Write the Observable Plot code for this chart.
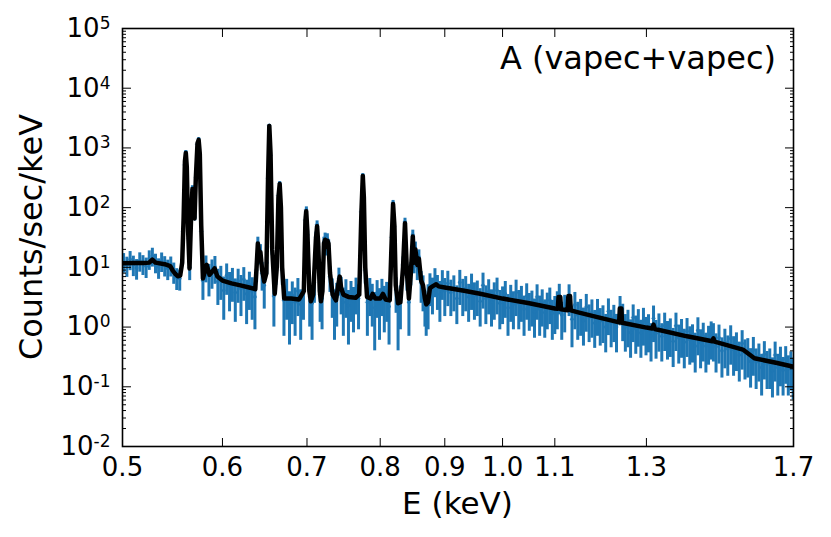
<!DOCTYPE html>
<html><head><meta charset="utf-8">
<script src="https://cdn.jsdelivr.net/npm/d3@7"></script>
<script src="https://cdn.jsdelivr.net/npm/@observablehq/plot@0.6"></script>
<style>body{margin:0;background:#fff}#chart{width:831px;height:537px}</style>
</head><body><div id="chart"></div>
<script>
// ---- model (black line) ----
const modelE = [0.500,0.510,0.520,0.525,0.528,0.531,0.540,0.5455,0.548,0.5505,0.553,0.5555,0.5575,0.5590,0.5603,0.5612,0.5622,0.5636,0.5650,0.5665,0.5680,0.5692,0.5702,0.5715,0.5733,0.5745,0.5757,0.5772,0.5790,0.5810,0.5830,0.5860,0.5890,0.5915,0.5945,0.6000,0.6100,0.6200,0.6300,0.6350,0.6370,0.6385,0.6400,0.6415,0.6430,0.6450,0.6475,0.6500,0.6520,0.6535,0.6550,0.6570,0.6600,0.6625,0.6645,0.6660,0.6675,0.6690,0.6715,0.6800,0.6900,0.6960,0.6980,0.6990,0.7005,0.7030,0.7050,0.7080,0.7115,0.7130,0.7145,0.7165,0.7180,0.7200,0.7220,0.7235,0.7250,0.7265,0.7280,0.7300,0.7335,0.7380,0.7410,0.7430,0.7450,0.7480,0.7550,0.7650,0.7700,0.7730,0.7750,0.7765,0.7785,0.7810,0.7860,0.7890,0.7930,0.8000,0.8040,0.8080,0.8140,0.8170,0.8190,0.8210,0.8230,0.8265,0.8300,0.8340,0.8370,0.8400,0.8430,0.8460,0.8490,0.8510,0.8530,0.8560,0.8585,0.8620,0.8650,0.8680,0.8700,0.8730,0.8760,0.8800,0.8860,0.8900,0.9000,0.9300,0.9600,1.0000,1.0500,1.1000,1.1060,1.1075,1.1110,1.1125,1.1260,1.1275,1.1310,1.1325,1.1500,1.2000,1.2370,1.2385,1.2420,1.2435,1.3000,1.3140,1.3170,1.3200,1.4000,1.4660,1.4690,1.4720,1.5500,1.5830,1.6500,1.7000];
const modelFlux = [11.7,11.8,11.8,12.0,13.5,12.0,11.3,10.5,8.8,7.8,7.1,7.3,12,70,600,824,480,40,9.6,60,205,100,66,300,1200,1365,800,50,6.5,8.5,11,7.5,8.5,9.6,7,6.0,5.4,5.0,4.6,4.4,4.3,10,25,17,18,9,5.8,8,300,2340,800,20,3.6,10,150,248,100,10,3.0,3.0,2.9,4,60,87,40,4,2.7,3.5,30,49,25,4,2.7,4,25,29,22,28,25,8,3.5,2.8,5,7,4.5,3.5,3.2,3.1,3.5,80,339,150,10,3.2,3.0,3.6,3.0,3.0,3.6,2.9,2.8,30,115,50,5,2.5,2.6,10,55,8,3,8,33,12,20,11,14,6,5,3,2.4,2.6,4.5,4.8,5.2,4.8,4.6,4.1,3.62,3.0,2.5,2.05,2.02,3.2,3.2,1.98,1.92,3.3,3.3,1.9,1.75,1.40,1.2,2.05,2.05,1.18,0.98,0.95,1.1,0.93,0.70,0.58,0.65,0.57,0.42,0.30,0.25,0.217];

// ---- data (blue points with error bars) ----
const dataE = [
0.501,0.504,0.507,0.510,0.513,0.516,0.519,0.522,0.525,0.528,0.531,0.534,0.537,0.540,0.543,0.546,0.549,0.552,0.555,
0.5585,0.5600,0.5612,0.5625,0.5640,0.5652,0.5665,0.5680,0.5695,0.5705,0.5718,0.5732,0.5745,0.5760,0.5775,0.5790,
0.5822,0.5854,0.5886,0.5918,0.5950,0.5982,0.6014,0.6046,0.6078,0.6110,0.6142,0.6174,0.6206,0.6238,0.6270,0.6302,0.6334,0.6366,
0.6385,0.6400,0.6415,0.6430,0.6450,0.6475,0.6505,0.6520,0.6535,0.6550,0.6568,0.6590,0.6615,0.6645,0.6660,0.6675,0.6692,0.6712,
0.6745,0.6780,0.6815,0.6850,0.6885,0.6920,0.6955,0.6980,0.6992,0.7008,0.7035,0.7065,0.7095,0.7115,0.7130,0.7148,0.7170,0.7195,0.7220,0.7235,0.7250,0.7265,0.7282,0.7300,0.7330,0.7360,0.7390,0.7420,0.7450,0.7480,0.7515,0.7550,0.7585,0.7620,0.7655,0.7690,
0.7730,0.7750,0.7765,0.7785,0.7815,0.7850,0.7885,0.7920,0.7955,0.7990,0.8025,0.8060,0.8095,0.8130,0.8170,0.8190,0.8210,0.8235,0.8265,0.8300,0.8340,0.8370,0.8400,0.8430,0.8460,0.8490,0.8510,0.8530,0.8560,0.8585,0.8620,0.8650,0.8680,0.8700,0.8730,0.8760,0.8800,0.8840,0.8880,0.8920,0.8960,0.9000,
0.905,0.910,0.915,0.920,0.925,0.930,0.935,0.940,0.945,0.950,0.955,0.960,0.965,0.970,0.975,0.980,0.985,0.990,0.995,1.000,1.005,1.010,1.015,1.020,1.025,1.030,1.035,1.040,1.045,1.050,1.055,1.060,1.065,1.070,1.075,1.080,1.085,1.090,1.095,1.100,1.105,
1.109,1.114,1.120,1.129,1.135,1.141,1.147,1.153,1.159,1.165,1.171,1.177,1.183,1.189,1.195,1.201,1.207,1.213,1.219,1.225,1.231,1.239,1.245,1.251,1.257,1.263,1.269,1.275,1.281,1.287,1.293,1.299,1.305,1.311,1.317,1.323,1.330,1.337,1.344,1.351,1.358,1.365,1.372,1.379,1.386,1.393,1.400,1.407,1.414,1.421,1.428,1.435,1.442,1.449,1.456,1.463,
1.469,1.476,1.484,1.492,1.500,1.508,1.516,1.524,1.532,1.540,1.548,1.556,1.564,1.572,1.580,1.588,1.596,1.604,1.612,1.620,1.628,1.636,1.644,1.652,1.660,1.668,1.676,1.684,1.692,1.699];
const dataFlux = [
12.5,10.8,13.6,11.2,9.8,12.9,11.5,10.4,13.9,15.5,12.2,10.1,12.8,11.0,9.6,10.9,8.5,6.8,6.5,
40,520,860,380,30,10,70,215,90,70,320,1150,1420,700,40,6.0,
10.5,7.2,8.8,10.2,5.8,6.6,4.1,7.4,5.0,6.1,3.8,5.9,4.4,6.3,3.6,5.1,4.0,3.2,
9,26,16,19,8,5.0,12,310,2400,750,22,3.3,9,160,255,95,9,2.8,
3.8,2.2,3.4,2.6,4.0,2.4,3.6,62,92,35,3.2,2.5,5.5,32,52,22,3.5,3.0,26,31,21,30,23,7,3.9,2.4,3.2,6.5,4.2,2.6,3.8,2.3,3.5,2.7,4.1,3.0,
85,350,140,9,2.6,4.0,3.1,2.1,3.7,2.5,3.9,2.8,3.4,2.2,32,120,48,4.2,2.0,2.9,11,58,7.5,2.6,8.5,35,12,21,10,15,5.5,4.5,2.5,1.9,3.0,5.0,4.1,6.3,4.6,3.5,5.8,4.0,
5.4,3.8,4.5,3.0,5.6,3.9,4.4,3.2,4.8,3.4,3.7,2.7,5.0,3.0,3.9,2.6,3.4,4.1,2.5,2.9,3.6,2.1,3.1,2.4,3.8,2.5,3.0,2.0,3.3,2.25,2.5,1.8,3.2,2.0,2.6,1.75,2.3,2.8,1.7,2.0,2.4,
3.4,1.6,2.1,3.3,1.35,2.35,1.6,1.8,1.28,2.17,1.45,1.75,1.17,1.8,1.26,1.4,1.0,1.84,1.18,1.43,1.0,2.15,1.49,1.0,1.18,0.81,1.45,0.94,1.21,0.8,1.27,0.89,0.99,0.7,1.4,0.79,1.02,0.7,1.05,0.76,0.84,0.58,1.05,0.66,0.82,0.56,0.85,0.62,0.67,0.48,0.88,0.55,0.71,0.48,0.63,0.75,
0.7,0.47,0.66,0.4,0.56,0.43,0.64,0.42,0.49,0.34,0.53,0.37,0.39,0.265,0.41,0.26,0.32,0.21,0.35,0.24,0.26,0.185,0.34,0.21,0.28,0.19,0.29,0.2,0.235,0.18];
const dataErr = [
4.5,4.0,4.8,4.2,3.7,4.6,4.2,3.9,5.0,5.4,4.4,3.8,4.6,4.1,3.6,4.0,3.3,2.7,2.5,
8,30,40,25,7,4,10,18,12,10,22,45,50,35,8,3.2,
5,4,4.5,5,3.5,3.8,2.8,4,3.2,3.5,2.6,3.4,2.9,3.6,2.5,3.2,2.7,2.3,
3.5,6,5,5,4,3,4.5,20,60,35,6,2.3,4,15,18,12,4,2.1,
2.5,1.7,2.3,1.9,2.5,1.8,2.3,9,11,7,2.2,1.9,3,7,8,6,2.3,2.1,6,6.5,5.5,6.5,6,3.2,2.5,1.8,2.2,3.2,2.6,1.9,2.4,1.8,2.3,1.9,2.5,2.1,
10,20,13,3.8,1.9,2.5,2.1,1.7,2.3,1.9,2.4,2.0,2.2,1.7,7,12,8,2.5,1.6,2.0,4,8.5,3.5,1.9,3.6,7,4.2,5.5,4,4.6,3,2.7,1.5,1.2,2.1,2.8,2.5,3.2,2.7,2.3,3.0,2.5,
3.2,2.3,2.7,1.9,3.3,2.4,2.6,2.0,2.9,2.1,2.2,1.7,3.0,1.9,2.3,1.6,2.1,2.5,1.6,1.8,2.2,1.4,1.9,1.5,2.3,1.6,1.8,1.3,2.0,1.4,1.5,1.15,1.9,1.3,1.6,1.1,1.4,1.7,1.1,1.25,1.5,
1.8,1.0,1.3,1.8,0.9,1.45,1.0,1.1,0.8,1.35,0.9,1.1,0.73,1.1,0.78,0.87,0.63,1.12,0.73,0.88,0.63,1.1,0.92,0.62,0.73,0.51,0.9,0.59,0.75,0.5,0.79,0.56,0.62,0.44,0.85,0.5,0.64,0.44,0.66,0.48,0.53,0.37,0.66,0.42,0.52,0.36,0.54,0.39,0.42,0.31,0.55,0.35,0.45,0.31,0.4,0.47,
0.44,0.3,0.42,0.26,0.36,0.28,0.41,0.27,0.31,0.22,0.34,0.24,0.25,0.17,0.26,0.17,0.2,0.14,0.22,0.15,0.17,0.12,0.22,0.14,0.18,0.12,0.18,0.13,0.15,0.12];

// ---- axes ----
const xTicks = [0.5,0.6,0.7,0.8,0.9,1.0,1.1,1.3,1.7];
const yMajor = [1e-2,1e-1,1,10,100,1000,10000,100000];
const yDecades = [1e-2,1e-1,1,10,100,1000,10000];
const yMinorMult = [2,3,4,5,6,7,8,9];
const yMinor = yDecades.flatMap(d => yMinorMult.map(m => d * m));
const titleText = "A (vapec+vapec)";
const xLabel = "E (keV)";
const yLabel = "Counts/sec/keV";

const blue = "#1f77b4";
const dIdx = dataE.map((_, i) => i);
const mIdx = modelE.map((_, i) => i);
const lo = i => dataFlux[i] - dataErr[i];
const hi = i => dataFlux[i] + dataErr[i];

const plot = Plot.plot({
  width: 831, height: 537,
  marginLeft: 122, marginRight: 38, marginTop: 28, marginBottom: 91,
  style: {fontFamily: "DejaVu Sans", background: "white", color: "black"},
  x: {type: "log", domain: [0.5, 1.7]},
  y: {type: "log", domain: [0.01, 1e5]},
  marks: [
    Plot.ruleY(dIdx, {x1: i => dataE[i] * 0.9955, x2: i => dataE[i] * 1.0045, y: i => dataFlux[i], stroke: blue, strokeOpacity: 0.18, strokeWidth: 1, clip: true}),
    Plot.ruleX(dIdx, {x: i => dataE[i], y1: lo, y2: hi, stroke: blue, strokeWidth: 3, clip: true}),
    Plot.dot(dIdx, {x: i => dataE[i], y: i => dataFlux[i], r: 1.8, fill: blue, stroke: null, clip: true}),
    Plot.line(mIdx, {x: i => modelE[i], y: i => modelFlux[i], stroke: "black", strokeWidth: 4.5, strokeLinejoin: "round", clip: true}),
    Plot.axisX({anchor: "bottom", ticks: xTicks, tickSize: -8, tickFormat: () => "", label: null}),
    Plot.axisX({anchor: "bottom", ticks: xTicks, tickSize: 0, tickPadding: 11, tickFormat: d3.format(".1f"), fontSize: 26, label: null}),
    Plot.axisX({anchor: "top", ticks: xTicks, tickSize: -8, tickFormat: () => "", label: null}),
    Plot.axisY({anchor: "left", ticks: yMajor, tickSize: -9, tickFormat: () => "", label: null}),
    Plot.axisY({anchor: "left", ticks: yMinor, tickSize: -4, tickFormat: () => "", label: null}),
    Plot.axisY({anchor: "right", ticks: yMajor, tickSize: -9, tickFormat: () => "", label: null}),
    Plot.axisY({anchor: "right", ticks: yMinor, tickSize: -4, tickFormat: () => "", label: null}),
    Plot.axisY({anchor: "left", ticks: yMajor, tickSize: 0, tickPadding: 12, tickFormat: d => String(Math.round(Math.log10(d))), fontSize: 26, label: null}),
    Plot.frame({stroke: "black", strokeWidth: 1.6})
  ]
});

// superscript exponents on the y tick labels
plot.querySelectorAll('[aria-label="y-axis tick label"] text').forEach(t => {
  const e = t.textContent;
  if (!e) return;
  t.textContent = "10";
  const ts = document.createElementNS("http://www.w3.org/2000/svg", "tspan");
  ts.setAttribute("dy", "-8");
  ts.setAttribute("font-size", "17");
  ts.textContent = e;
  t.appendChild(ts);
});

const svg = d3.select(plot);
svg.append("text").attr("x", 776).attr("y", 69).attr("text-anchor", "end")
  .attr("font-size", 32).attr("fill", "black").text(titleText);
svg.append("text").attr("x", 457.5).attr("y", 514).attr("text-anchor", "middle")
  .attr("font-size", 31).attr("fill", "black").text(xLabel);
svg.append("text").attr("transform", "translate(42,237) rotate(-90)").attr("text-anchor", "middle")
  .attr("font-size", 32).attr("fill", "black").text(yLabel);

document.getElementById("chart").appendChild(plot);
</script>
</body></html>
